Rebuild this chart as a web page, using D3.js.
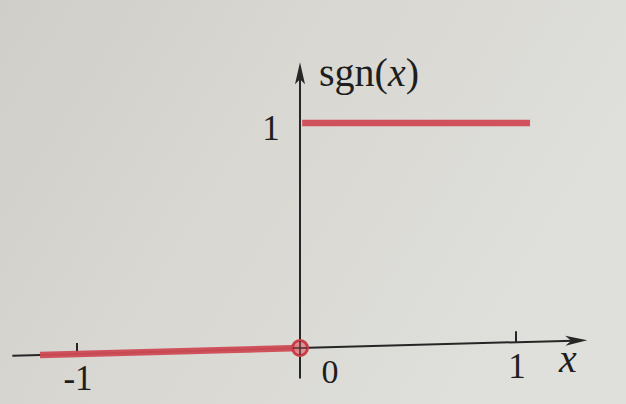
<!DOCTYPE html>
<html><head><meta charset="utf-8">
<script src="https://cdn.jsdelivr.net/npm/d3@7"></script>
<style>html,body{margin:0;padding:0;background:#d8d7d2;}svg{display:block;}</style>
</head><body>
<svg id="c" width="626" height="404"></svg>
<script>
// data
const xTickValues = [-1, 1];
const xTickLabels = ["-1", "1"];
const originLabel = "0";
const yTickValues = [1];
const yTickLabels = ["1"];
const negX = [-1.166, 0];      // x < 0 segment
const negY = [0, 0];
const posX = [0.01, 1.065];    // x > 0 segment
const posY = [1, 1];
const openPointX = [0];
const openPointY = [0];
const xAxisExtent = [-1.29, 1.33];
const yAxisExtent = [-0.135, 1.27];

const svg = d3.select("#c");
const W = 626, H = 404;

// background (paper)
const defs = svg.append("defs");
const g1 = defs.append("linearGradient").attr("id","bg").attr("x1","0").attr("y1","0").attr("x2","1").attr("y2","0.4");
g1.append("stop").attr("offset","0").attr("stop-color","#cfcec8");
g1.append("stop").attr("offset","0.5").attr("stop-color","#d9d8d3");
g1.append("stop").attr("offset","1").attr("stop-color","#dfdfdb");
svg.append("rect").attr("width",W).attr("height",H).attr("fill","url(#bg)");

const x = d3.scaleLinear().domain([-1, 0, 1]).range([77, 300, 516]);
const y = d3.scaleLinear().domain([0, 1]).range([348, 123]);

// slight perspective of the photographed page
const tilt = -0.027;
function Pp(px, py) {
  return [px, py + tilt * (px - x(0)) * (py - y(1)) / (y(0) - y(1))];
}
function P(xv, yv) { return Pp(x(xv), y(yv)); }

const axisColor = "#262626";
const red = "#cf4a55";
const textColor = "#1e1e1e";
const serif = "'Liberation Serif','DejaVu Serif',serif";

// x axis
const xa0 = P(xAxisExtent[0], 0), xa1 = P(xAxisExtent[1], 0);
svg.append("line").attr("x1",xa0[0]).attr("y1",xa0[1]).attr("x2",xa1[0]-14).attr("y2",xa1[1]+0.4)
  .attr("stroke",axisColor).attr("stroke-width",2);
{
  const ang = Math.atan2(xa1[1]-xa0[1], xa1[0]-xa0[0]);
  const L = 22, hw = 5;
  const bx = xa1[0] - L*Math.cos(ang), by = xa1[1] - L*Math.sin(ang);
  svg.append("path").attr("d", `M${xa1[0]},${xa1[1]} L${bx - hw*Math.sin(ang)},${by + hw*Math.cos(ang)} L${bx+6*Math.cos(ang)},${by+6*Math.sin(ang)} L${bx + hw*Math.sin(ang)},${by - hw*Math.cos(ang)} Z`)
    .attr("fill",axisColor);
}
// y axis
const ya0 = P(0, yAxisExtent[0]), ya1 = P(0, yAxisExtent[1]);
svg.append("line").attr("x1",ya0[0]).attr("y1",ya0[1]).attr("x2",ya1[0]).attr("y2",ya1[1]+14)
  .attr("stroke",axisColor).attr("stroke-width",2);
svg.append("path").attr("d", `M${ya1[0]},${ya1[1]} L${ya1[0]-5},${ya1[1]+22} L${ya1[0]},${ya1[1]+17} L${ya1[0]+5},${ya1[1]+22} Z`).attr("fill",axisColor);

// x ticks
xTickValues.forEach((v, i) => {
  const p = P(v, 0);
  svg.append("line").attr("x1",p[0]).attr("y1",p[1]).attr("x2",p[0]).attr("y2",p[1]-11)
    .attr("stroke",axisColor).attr("stroke-width",2);
  svg.append("text").attr("x", p[0] + 1).attr("y", p[1] + 35.5)
    .attr("text-anchor","middle").attr("font-family",serif).attr("font-size",35).attr("fill",textColor)
    .text(xTickLabels[i]);
});
// origin label
{
  const t = Pp(x(0)+30, y(0));
  svg.append("text").attr("x",t[0]).attr("y",t[1]+36).attr("text-anchor","middle")
    .attr("font-family",serif).attr("font-size",34).attr("fill",textColor).text(originLabel);
}
// x label
{
  const t = Pp(568, y(0));
  svg.append("text").attr("x",t[0]).attr("y",t[1]+31).attr("text-anchor","middle")
    .attr("font-family",serif).attr("font-style","italic").attr("font-size",40).attr("fill",textColor).text("x");
}
// y tick labels
yTickValues.forEach((v, i) => {
  const p = P(0, v);
  svg.append("text").attr("x",p[0]-29).attr("y",p[1]+17).attr("text-anchor","middle")
    .attr("font-family",serif).attr("font-size",35).attr("fill",textColor).text(yTickLabels[i]);
});
// y label sgn(x)
{
  const tx = svg.append("text").attr("x",319).attr("y",86).attr("font-family",serif).attr("font-size",40).attr("fill",textColor);
  tx.append("tspan").text("sgn(");
  tx.append("tspan").attr("font-style","italic").text("x");
  tx.append("tspan").text(")");
}

// step segments
const line = d3.line().x(d => d[0]).y(d => d[1]);
svg.append("path").datum(negX.map((v,i) => P(v, negY[i]))).attr("d", line)
  .attr("fill","none").attr("stroke",red).attr("stroke-width",6.5).attr("opacity",0.95);
svg.append("path").datum(posX.map((v,i) => P(v, posY[i]))).attr("d", line)
  .attr("fill","none").attr("stroke",red).attr("stroke-width",6.5).attr("opacity",0.95);

// open point at origin
openPointX.forEach((v, i) => {
  const p = P(v, openPointY[i]);
  svg.append("circle").attr("cx",p[0]).attr("cy",p[1]).attr("r",7.5)
    .attr("fill","#e3848a").attr("fill-opacity",0.85).attr("stroke","#c93d48").attr("stroke-width",3);
  svg.append("line").attr("x1",p[0]-7).attr("y1",p[1]).attr("x2",p[0]+7).attr("y2",p[1]).attr("stroke","#3a2a2a").attr("stroke-width",1.3);
  svg.append("line").attr("x1",p[0]).attr("y1",p[1]-7).attr("x2",p[0]).attr("y2",p[1]+7).attr("stroke","#3a2a2a").attr("stroke-width",1.3);
});
</script>
</body></html>
